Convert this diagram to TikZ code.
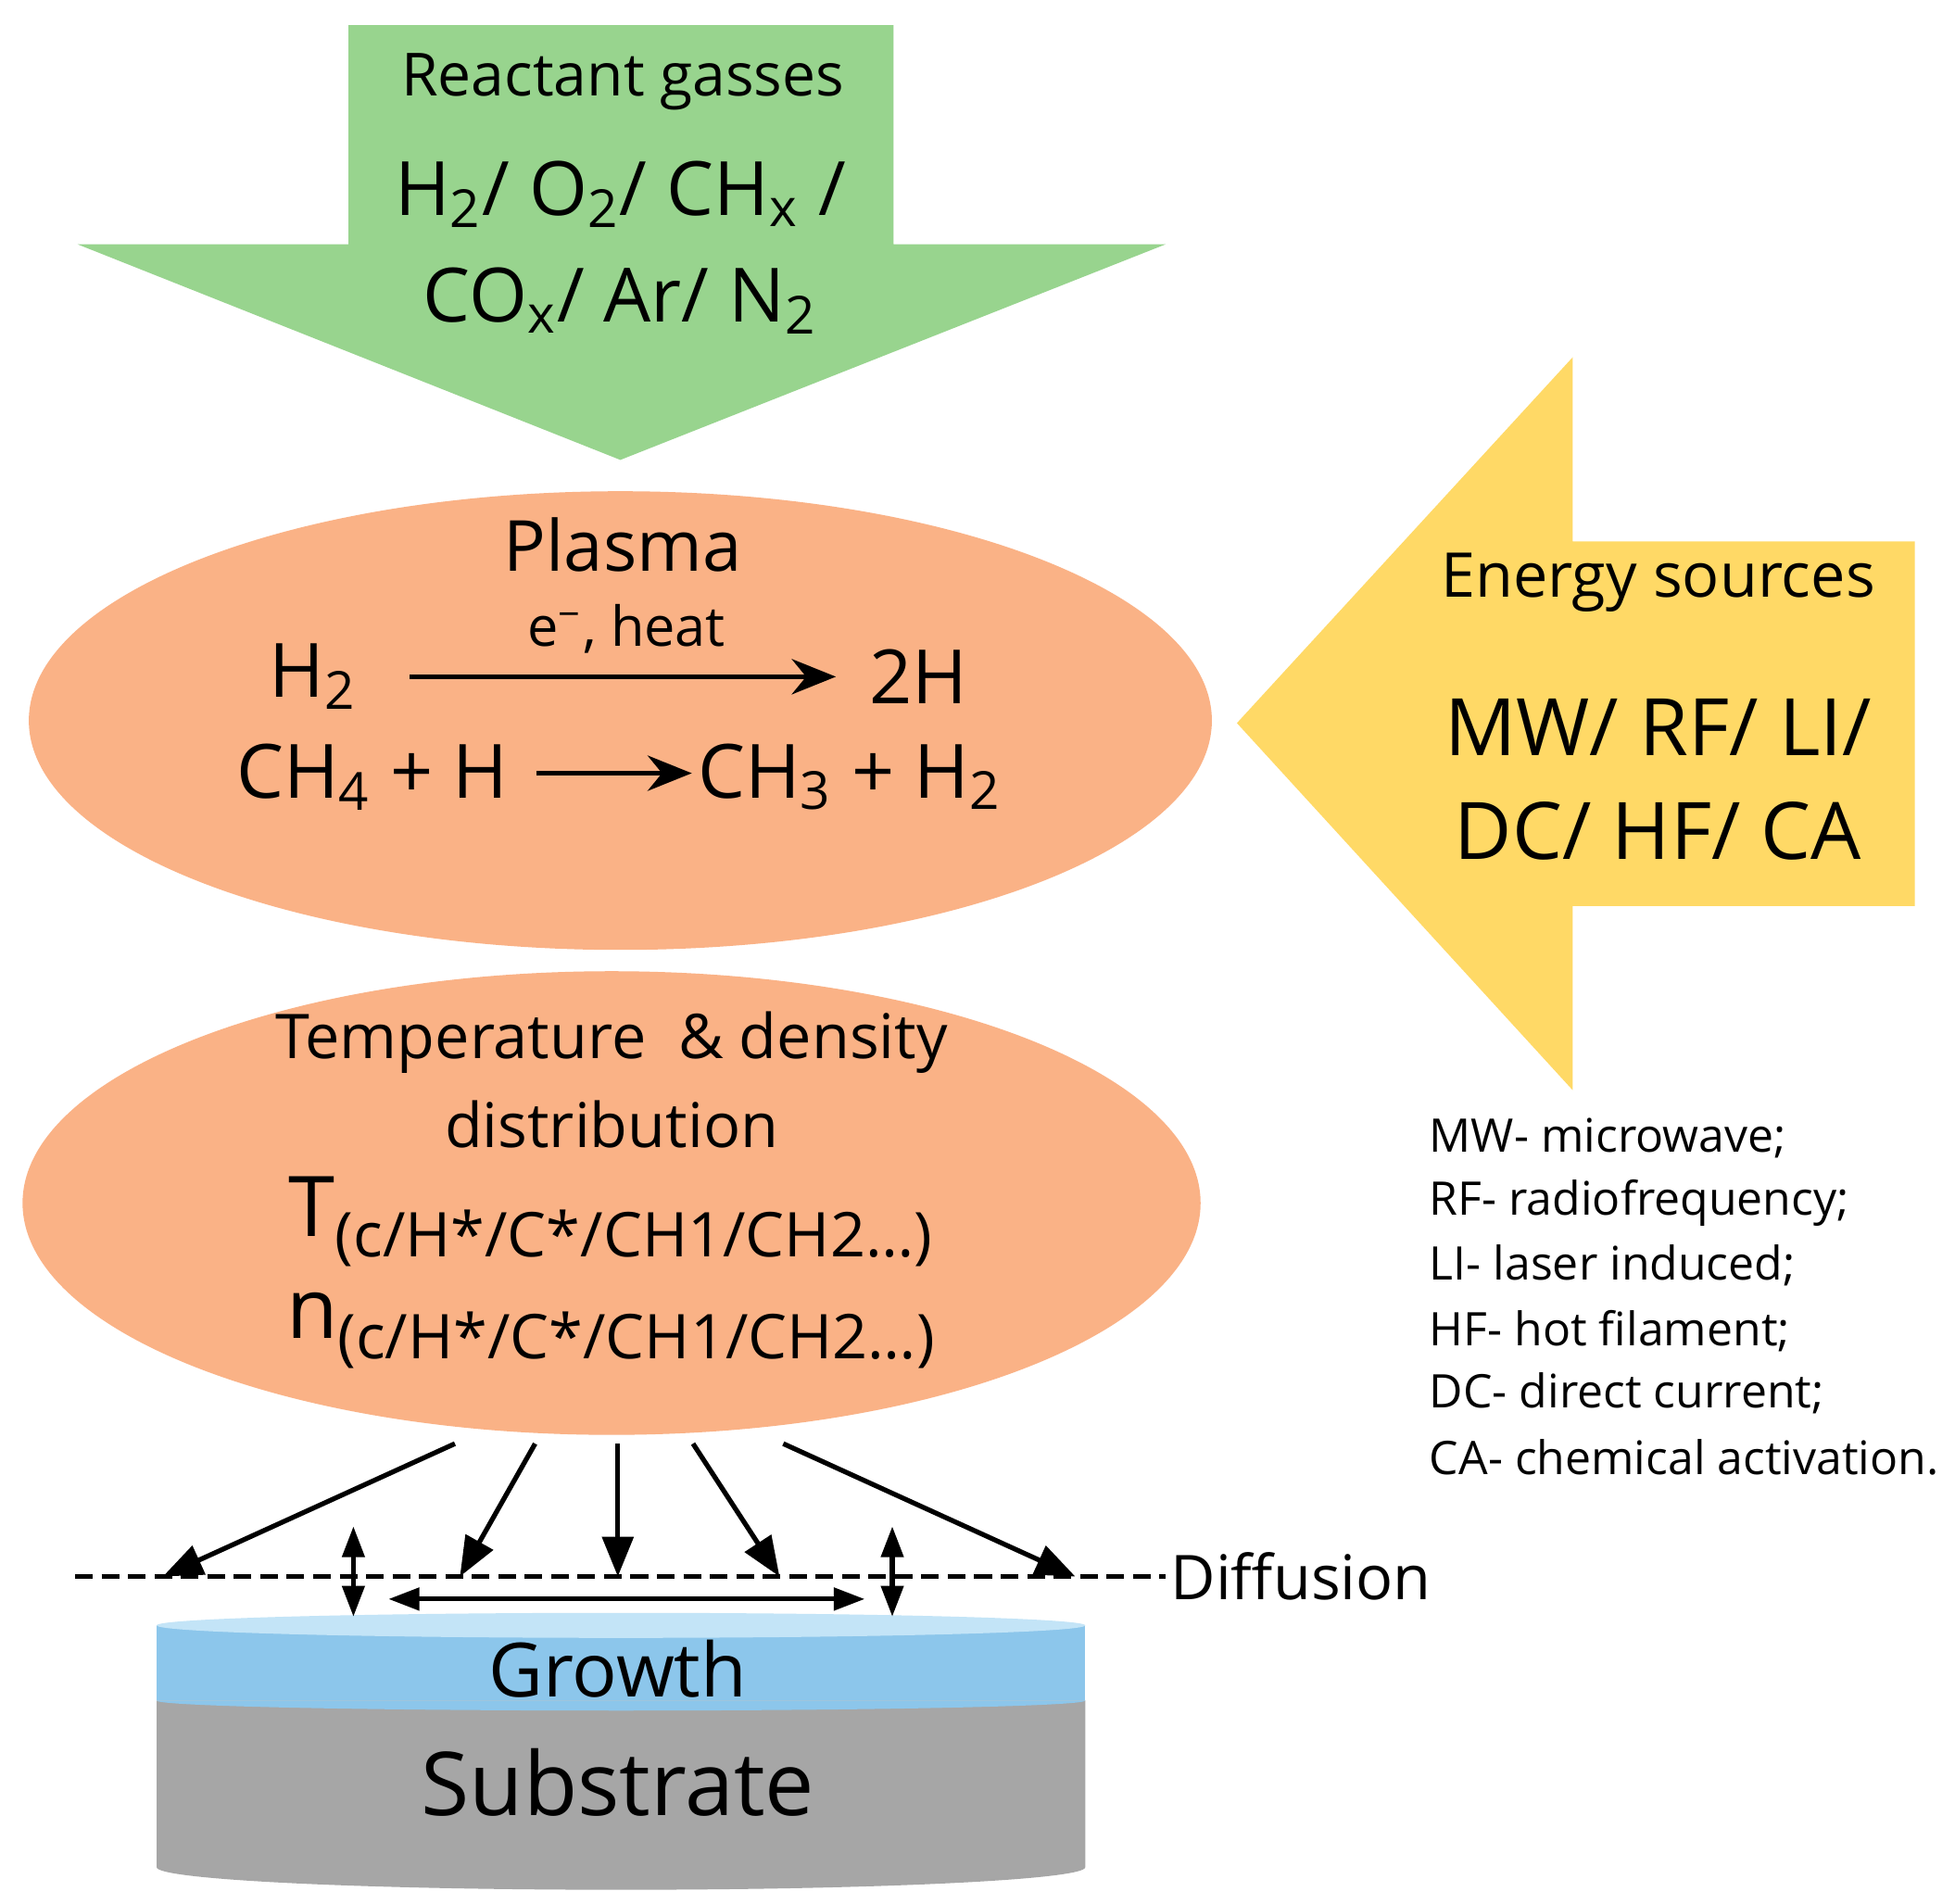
\documentclass[tikz,border=0pt]{standalone}
\usepackage{fontspec}
\setmainfont{Open Sans}
\usetikzlibrary{arrows.meta}
\definecolor{gr}{RGB}{152,212,142}
\definecolor{pl}{RGB}{250,178,134}
\definecolor{yl}{RGB}{255,217,102}
\definecolor{bl}{RGB}{140,198,235}
\definecolor{blt}{RGB}{195,228,247}
\definecolor{gy}{RGB}{166,166,166}
\newcommand{\fs}[1]{\fontsize{#1}{#1}\selectfont}
\newcommand{\sbs}[1]{\textsubscript{#1}}
\begin{document}
\begin{tikzpicture}[x=0.01cm,y=-0.01cm,
  txt/.style={inner sep=0pt,anchor=center},
  arr/.style={-{Triangle[length=9pt,width=7pt]},line width=1.1pt},
  darr/.style={{Triangle[length=7pt,width=5pt]}-{Triangle[length=7pt,width=5pt]},line width=1.1pt}]
\useasboundingbox (0,0) rectangle (1560,1519);
\fill[white] (0,0) rectangle (1560,1519);
% green arrow
\fill[gr] (278,20) -- (713,20) -- (713,195) -- (930,195) -- (495,367) -- (62,195) -- (278,195) -- cycle;
\node[txt] (rg) at (497,65) {\fs{13.5}Reactant gasses};
\node[txt] (g1) at (495,155) {\fs{17}H\sbs{2}/ O\sbs{2}/ CH\sbs{x} /};
\node[txt] (g2) at (495,240) {\fs{17}CO\sbs{x}/ Ar/ N\sbs{2}};
% plasma
\fill[pl] (495,575) ellipse [x radius=472,y radius=183];
\node[txt] (pl) at (497,435) {\fs{16}Plasma};
\node[txt] (eh) at (500,502) {\fs{12.5}e\textsuperscript{−}, heat};
\node[txt] (h2) at (250,540) {\fs{17}H\sbs{2}};
\node[txt] (twoh) at (733,540) {\fs{17}2H};
\node[txt] (ch4) at (297,620) {\fs{17}CH\sbs{4} + H};
\node[txt] (ch3) at (678,620) {\fs{17}CH\sbs{3} + H\sbs{2}};
\coordinate (a1) at (327,540); \coordinate (a2) at (667,540);
\coordinate (b1) at (428,617); \coordinate (b2) at (552,617);
\draw[line width=1.1pt,-{Stealth[length=10pt,width=8pt]}] (a1) -- (a2);
\draw[line width=1.1pt,-{Stealth[length=10pt,width=8pt]}] (b1) -- (b2);
% second ellipse
\fill[pl] (488,960) ellipse [x radius=470,y radius=185];
\node[txt] (td) at (488,832) {\fs{14}Temperature \ \& density};
\node[txt] (di) at (488,897) {\fs{14}distribution};
\node[txt] (T) at (488,975) {\fs{19}T\textsubscript{\fs{14}(c/H*/C*/CH1/CH2…)}};
\node[txt] (n) at (488,1062) {\fs{19}n\textsubscript{\fs{14}(c/H*/C*/CH1/CH2…)}};
% yellow arrow
\fill[yl] (987,577) -- (1255,285) -- (1255,432) -- (1528,432) -- (1528,723) -- (1255,723) -- (1255,870) -- cycle;
\node[txt] (es) at (1323,465) {\fs{14}Energy sources};
\node[txt] (e1) at (1323,580) {\fs{18}MW/ RF/ LI/};
\node[txt] (e2) at (1323,663) {\fs{18}DC/ HF/ CA};
% legend
\node[anchor=west,inner sep=0pt] (l1) at (1140,908) {\fs{10.5}MW- microwave;};
\node[anchor=west,inner sep=0pt] (l2) at (1140,960) {\fs{10.5}RF- radiofrequency;};
\node[anchor=west,inner sep=0pt] (l3) at (1140,1010) {\fs{10.5}LI- laser induced;};
\node[anchor=west,inner sep=0pt] (l4) at (1140,1062) {\fs{10.5}HF- hot filament;};
\node[anchor=west,inner sep=0pt] (l5) at (1140,1112) {\fs{10.5}DC- direct current;};
\node[anchor=west,inner sep=0pt] (l6) at (1140,1163) {\fs{10.5}CA- chemical activation.};
% cylinder
\fill[gy] (125,1357) -- (125,1490) arc[start angle=180,end angle=0,x radius=370.5,y radius=18] -- (866,1357) -- cycle;
\fill[bl] (125,1297) rectangle (866,1357);
\fill[bl] (125,1357) arc[start angle=180,end angle=0,x radius=370.5,y radius=8] -- cycle;
\fill[blt] (495.5,1297) ellipse [x radius=370.5,y radius=10];
\node[txt] (gw) at (493,1332) {\fs{17}Growth};
\node[txt] (sb) at (493,1422) {\fs{20}Substrate};
% diffusion line
\coordinate (dl) at (60,1258); \coordinate (dr) at (930,1258);
\draw[line width=0.9pt,dash pattern=on 4pt off 2pt] (dl) -- (dr);
\node[anchor=west,inner sep=1pt] (df) at (dr) {\fs{14}Diffusion};
% arrows from ellipse
\coordinate (s1) at (363,1152); \coordinate (t1) at (130,1258);
\coordinate (s2) at (427,1152); \coordinate (t2) at (367,1258);
\coordinate (s3) at (493,1152); \coordinate (t3) at (493,1258);
\coordinate (s4) at (553,1152); \coordinate (t4) at (622,1258);
\coordinate (s5) at (625,1152); \coordinate (t5) at (858,1258);
\foreach \i in {1,...,5} \draw[arr] (s\i) -- (t\i);
\coordinate (v1a) at (282,1218); \coordinate (v1b) at (282,1290);
\coordinate (v2a) at (712,1218); \coordinate (v2b) at (712,1290);
\coordinate (h1) at (310,1276); \coordinate (h2) at (690,1276);
\draw[darr] (v1a) -- (v1b);
\draw[darr] (v2a) -- (v2b);
\draw[darr] (h1) -- (h2);
\end{tikzpicture}
\end{document}
